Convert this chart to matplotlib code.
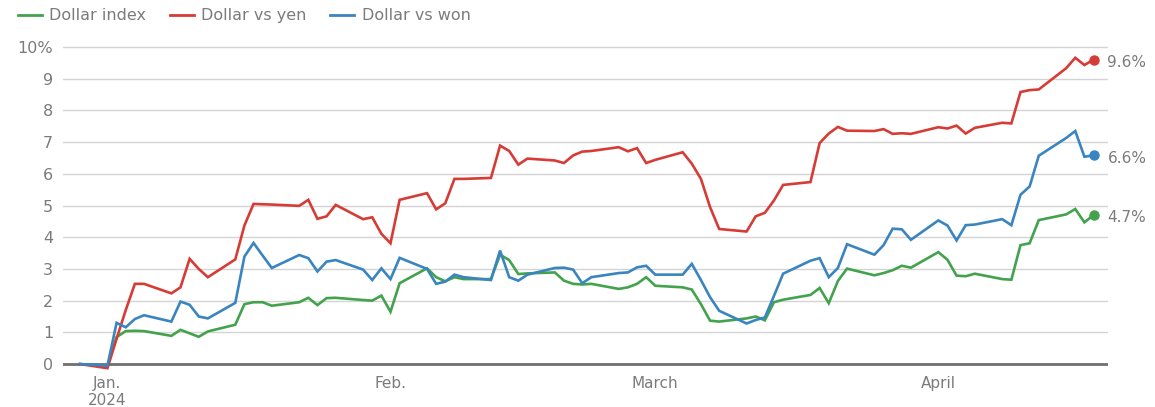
import matplotlib
matplotlib.use("Agg")
import matplotlib.pyplot as plt
from matplotlib.lines import Line2D
import pandas as pd

# trading days, 29 Dec 2023 .. 18 Apr 2024
dates = pd.bdate_range("2023-12-29", "2024-04-18")

# % change since end of 2023
dollar_index = [
    0.0,
    -0.05, 0.85, 1.04, 1.05, 1.04,
    0.89, 1.08, 0.97, 0.86, 1.03,
    1.24, 1.89, 1.95, 1.95, 1.84,
    1.95, 2.09, 1.86, 2.08, 2.09,
    2.02, 2.00, 2.16,
    1.65, 2.55,
    3.02, 2.74, 2.61, 2.74, 2.68,
    2.68, 3.45, 3.28, 2.84, 2.86,
    2.89, 2.63, 2.53, 2.51, 2.53,
    2.37, 2.42, 2.53, 2.74,
    2.47,
    2.42, 2.35, 1.89, 1.37, 1.34,
    1.44, 1.50, 1.38, 1.95, 2.03,
    2.18, 2.40, 1.92, 2.62, 3.01,
    2.80, 2.87, 2.96, 3.10, 3.04,
    3.53, 3.29, 2.79, 2.77, 2.85,
    2.68, 2.66, 3.75, 3.81, 4.54,
    4.72, 4.89, 4.47, 4.70,
]
dollar_yen = [
    0.0,
    -0.13, 0.80, 1.70, 2.53, 2.53,
    2.23, 2.42, 3.32, 3.00, 2.74,
    3.30, 4.37, 5.05, 5.04, 5.03,
    4.99, 5.18, 4.58, 4.66, 5.02,
    4.57, 4.63, 4.11,
    3.81, 5.18,
    5.39, 4.88, 5.07, 5.84, 5.84,
    5.87, 6.89, 6.72, 6.29, 6.48,
    6.42, 6.34, 6.58, 6.70, 6.72,
    6.84, 6.71, 6.81, 6.34,
    6.44,
    6.68, 6.32, 5.84, 4.95, 4.26,
    4.18, 4.66, 4.77, 5.16, 5.65,
    5.74, 6.97, 7.27, 7.48, 7.36,
    7.35, 7.41, 7.26, 7.28, 7.26,
    7.47, 7.43, 7.52, 7.27, 7.45,
    7.61, 7.59, 8.58, 8.64, 8.66,
    9.33, 9.66, 9.43, 9.60,
]
dollar_won = [
    0.0,
    -0.05, 1.30, 1.16, 1.42, 1.54,
    1.34, 1.97, 1.87, 1.50, 1.44,
    1.93, 3.39, 3.82, 3.42, 3.03,
    3.44, 3.34, 2.92, 3.23, 3.28,
    2.98, 2.65, 3.02,
    2.68, 3.35,
    3.00, 2.53, 2.60, 2.82, 2.74,
    2.65, 3.58, 2.74, 2.63, 2.82,
    3.03, 3.04, 2.98, 2.55, 2.74,
    2.87, 2.89, 3.05, 3.10,
    2.82,
    2.82, 3.16, 2.65, 2.11, 1.68,
    1.28, 1.39, 1.47, 2.15, 2.85,
    3.26, 3.34, 2.74, 3.03, 3.78,
    3.45, 3.75, 4.27, 4.25, 3.92,
    4.53, 4.37, 3.90, 4.38, 4.40,
    4.57, 4.38, 5.34, 5.60, 6.57,
    7.13, 7.35, 6.54, 6.58,
]

series_names = ["Dollar index", "Dollar vs yen", "Dollar vs won"]
series_colors = ["#43a24c", "#d63c35", "#3a85c0"]
end_labels = ["4.7%", "9.6%", "6.6%"]

month_ticks = pd.to_datetime(["2024-01-01", "2024-02-01", "2024-03-01", "2024-04-01"])
month_labels = ["Jan.\n2024", "Feb.", "March", "April"]
y_ticks = list(range(0, 11))
y_labels = [str(v) for v in y_ticks[:-1]] + ["10%"]

text_gray = "#7b7b7b"

fig = plt.figure(figsize=(11.55, 4.07), dpi=100)
ax = fig.add_axes([0.0545, 0.086, 0.9048, 0.8157])

for vals, color in zip([dollar_index, dollar_yen, dollar_won], series_colors):
    ax.plot(dates, vals, color=color, lw=1.9, solid_joinstyle="miter", zorder=3)
    ax.plot(dates[-1], vals[-1], "o", color=color, ms=6.5, zorder=4)

# value labels just right of the end dots
for vals, lab in zip([dollar_index, dollar_yen, dollar_won], end_labels):
    ax.annotate(lab, (dates[-1], vals[-1]), xytext=(10, -2), textcoords="offset points",
                va="center", ha="left", fontsize=11, color=text_gray,
                family="DejaVu Sans", annotation_clip=False)

ax.set_xlim(pd.Timestamp("2023-12-27 03:00"), pd.Timestamp("2024-04-19 14:00"))
ax.set_ylim(-0.25, 10.22)

ax.set_yticks(y_ticks)
ax.set_yticklabels(y_labels)
ax.set_xticks(month_ticks)
ax.set_xticklabels(month_labels, linespacing=1.15)

ax.grid(axis="y", color="#d4d4d4", lw=1.0, zorder=0)
ax.axhline(0, color="#707070", lw=2.0, zorder=2)
for s in ax.spines.values():
    s.set_visible(False)

ax.tick_params(axis="y", length=0, pad=7, labelsize=11.5, labelcolor=text_gray)
ax.tick_params(axis="x", length=0, pad=3, labelsize=11, labelcolor=text_gray)
for t in ax.get_yticklabels():
    t.set_family("DejaVu Sans")
for t in ax.get_xticklabels():
    t.set_family(["Liberation Sans Narrow", "DejaVu Sans"])

handles = [Line2D([0], [0], color=c, lw=2) for c in series_colors]
fig.legend(handles, series_names, loc="upper left", bbox_to_anchor=(0.003, 1.015),
           ncol=3, frameon=False, handlelength=1.5, handletextpad=0.45,
           columnspacing=1.5, prop={"family": "DejaVu Sans", "size": 11.5},
           labelcolor=text_gray)

fig.savefig("out.png", dpi=100, facecolor="white")
